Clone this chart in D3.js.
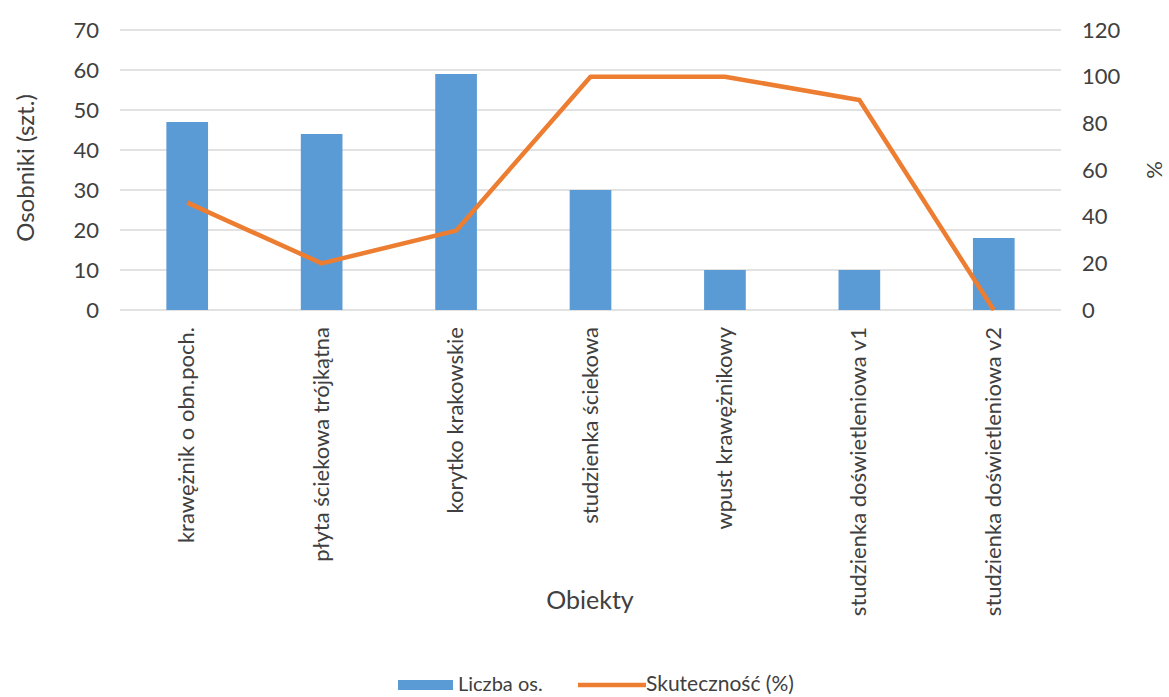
<!DOCTYPE html>
<html><head><meta charset="utf-8">
<script src="https://cdn.jsdelivr.net/npm/d3@7"></script>
<style>body{margin:0;background:#fff;} text{font-family:Lato,"Open Sans",sans-serif;fill:#404040;}</style>
</head><body>
<svg id="c" width="1169" height="697"></svg>
<script>
const categories = ["krawężnik o obn.poch.","płyta ściekowa trójkątna","korytko krakowskie","studzienka ściekowa","wpust krawężnikowy","studzienka doświetleniowa v1","studzienka doświetleniowa v2"];
const counts = [47, 44, 59, 30, 10, 10, 18];
const effectiveness = [46, 20, 34, 100, 100, 90, 0];
const leftTicks = [0,10,20,30,40,50,60,70];
const rightTicks = [0,20,40,60,80,100,120];

const svg = d3.select("#c");
const L = 120, R = 1061, T = 30, B = 310;
const x = d3.scaleBand().domain(categories).range([L, R]).paddingInner(0.69).paddingOuter(0.345);
const yL = d3.scaleLinear().domain([0,70]).range([B, T]);
const yR = d3.scaleLinear().domain([0,120]).range([B, T]);

// gridlines
svg.append("g").selectAll("line").data(leftTicks).join("line")
  .attr("x1", L).attr("x2", R).attr("y1", d=>yL(d)).attr("y2", d=>yL(d))
  .attr("stroke", "#d9d9d9").attr("stroke-width", 1.5);

// left axis
const ga = svg.append("g").attr("transform", `translate(${L},0)`)
  .call(d3.axisLeft(yL).tickValues(leftTicks).tickSize(0).tickPadding(21));
ga.select(".domain").remove();
ga.selectAll("text").style("font-size","22px").attr("fill","#404040");

// right axis
const gr = svg.append("g").attr("transform", `translate(${R},0)`)
  .call(d3.axisRight(yR).tickValues(rightTicks).tickSize(0).tickPadding(21));
gr.select(".domain").remove();
gr.selectAll("text").style("font-size","22px").attr("fill","#404040");

// bars
svg.append("g").selectAll("rect").data(categories).join("rect")
  .attr("x", d=>x(d)).attr("width", x.bandwidth())
  .attr("y", (d,i)=>yL(counts[i])).attr("height", (d,i)=>B - yL(counts[i]))
  .attr("fill", "#5b9bd5");

// line
const line = d3.line().x((d,i)=>x(categories[i]) + x.bandwidth()/2).y(d=>yR(d));
svg.append("path").datum(effectiveness).attr("d", line)
  .attr("fill","none").attr("stroke","#ed7d31").attr("stroke-width",4.5).attr("stroke-linejoin","round");

// x labels
svg.append("g").selectAll("text").data(categories).join("text")
  .attr("transform", d=>`translate(${x(d)+x.bandwidth()/2+7},${B+17}) rotate(-90)`)
  .attr("text-anchor","end").style("font-size","22px").text(d=>d);

// axis titles
svg.append("text").attr("transform","translate(34,168) rotate(-90)").attr("text-anchor","middle")
  .style("font-size","24px").text("Osobniki (szt.)");
svg.append("text").attr("transform","translate(1162,170) rotate(-90)").attr("text-anchor","middle")
  .style("font-size","22px").text("%");
svg.append("text").attr("x",590).attr("y",609).attr("text-anchor","middle")
  .style("font-size","25px").text("Obiekty");

// legend
const lg = svg.append("g");
lg.append("rect").attr("x",398).attr("y",680).attr("width",55).attr("height",10).attr("fill","#5b9bd5");
lg.append("text").attr("x",458).attr("y",691).style("font-size","20px").text("Liczba os.");
lg.append("line").attr("x1",578).attr("x2",646).attr("y1",685).attr("y2",685).attr("stroke","#ed7d31").attr("stroke-width",4.5);
lg.append("text").attr("x",646).attr("y",691).style("font-size","21px").text("Skuteczność (%)");
</script>
</body></html>
